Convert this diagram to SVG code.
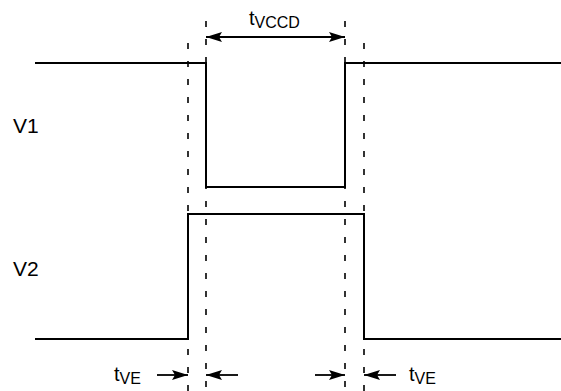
<svg xmlns="http://www.w3.org/2000/svg" width="561" height="391" viewBox="0 0 561 391">
<defs>
<style>
.sig{fill:none;stroke:#000;stroke-width:2}
.dash{fill:none;stroke:#000;stroke-width:1.6;stroke-dasharray:6,12}
.arr{fill:none;stroke:#000;stroke-width:1.8}
.lbl{font-family:"Liberation Sans",Arial,sans-serif;font-size:20px;fill:#000}
.big{font-size:21px}
.sub{font-size:16px}
</style>
<marker id="ah" viewBox="0 0 16 10" refX="16" refY="5" markerWidth="16" markerHeight="10" markerUnits="userSpaceOnUse" orient="auto">
<path d="M0,0 L16,5 L0,10 L3,5 Z" fill="#000"/>
</marker>
</defs>
<rect width="561" height="391" fill="#fff"/>
<g id="guides">
<line class="dash" x1="188" y1="43" x2="188" y2="391"/>
<line class="dash" x1="206" y1="21" x2="206" y2="391"/>
<line class="dash" x1="345" y1="21" x2="345" y2="391"/>
<line class="dash" x1="364" y1="43" x2="364" y2="391"/>
</g>
<g id="V1">
<polyline class="sig" points="35,63 206,63 206,187 345,187 345,63 561,63"/>
<text class="lbl big" x="13" y="133">V1</text>
</g>
<g id="V2">
<polyline class="sig" points="35,339 188,339 188,214 364,214 364,339 561,339"/>
<text class="lbl big" x="13" y="276">V2</text>
</g>
<g id="connectors">
<line class="arr" x1="275" y1="37" x2="206" y2="37" marker-end="url(#ah)"/>
<line class="arr" x1="275" y1="37" x2="345" y2="37" marker-end="url(#ah)"/>
<line class="arr" x1="157" y1="375" x2="188" y2="375" marker-end="url(#ah)"/>
<line class="arr" x1="238" y1="375" x2="206" y2="375" marker-end="url(#ah)"/>
<line class="arr" x1="315" y1="375" x2="345" y2="375" marker-end="url(#ah)"/>
<line class="arr" x1="396" y1="375" x2="364" y2="375" marker-end="url(#ah)"/>
</g>
<g id="labels">
<text class="lbl" x="249" y="25">t<tspan class="sub" dy="3">VCCD</tspan></text>
<text class="lbl" x="114" y="381">t<tspan class="sub" dy="3">VE</tspan></text>
<text class="lbl" x="409" y="381">t<tspan class="sub" dy="3">VE</tspan></text>
</g>
</svg>
